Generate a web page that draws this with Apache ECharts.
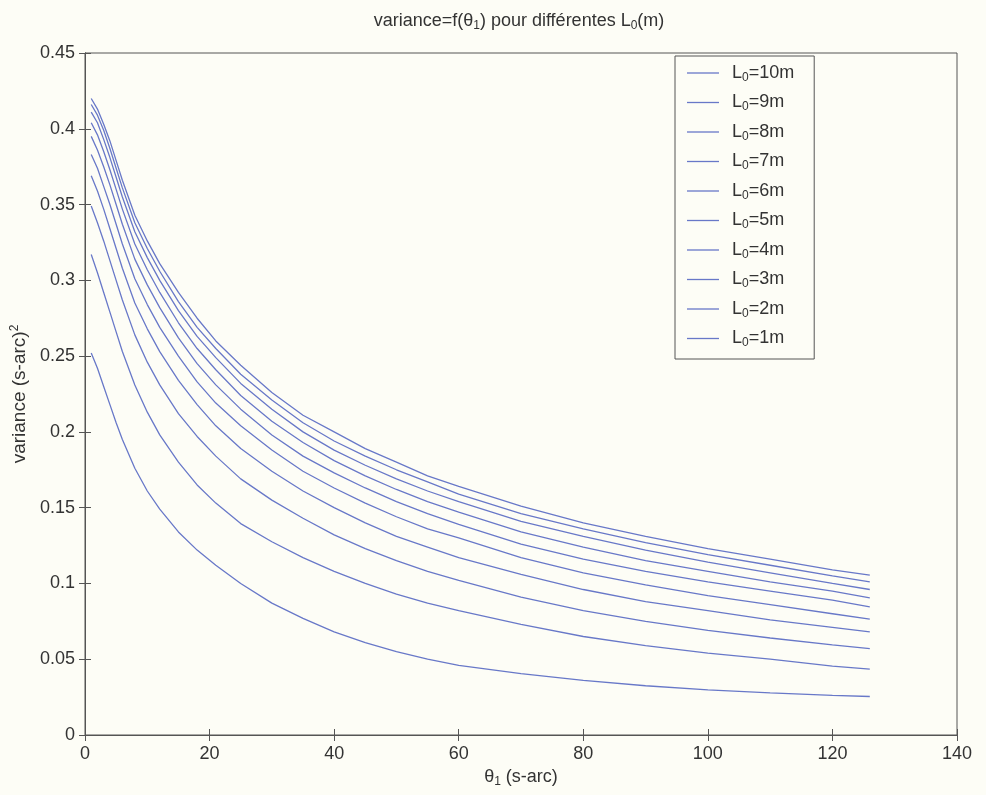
<!DOCTYPE html>
<html>
<head>
<meta charset="utf-8">
<script src="https://cdn.jsdelivr.net/npm/echarts@6/dist/echarts.min.js"></script>
<style>html,body{margin:0;padding:0;background:#fdfdf6;}#c{width:986px;height:795px;}</style>
</head>
<body>
<div id="c"></div>
<script>
var theta = [1, 2, 3, 4, 5, 6, 8, 10, 12, 15, 18, 21, 25, 30, 35, 40, 45, 50, 55, 60, 70, 80, 90, 100, 110, 120, 126];
var L10 = [0.420,0.413,0.403,0.392,0.379,0.366,0.343,0.326,0.311,0.292,0.275,0.260,0.244,0.226,0.211,0.200,0.189,0.180,0.171,0.164,0.151,0.140,0.131,0.123,0.116,0.109,0.1055];
var L9  = [0.416,0.409,0.399,0.387,0.374,0.361,0.338,0.321,0.306,0.286,0.269,0.255,0.238,0.221,0.206,0.194,0.184,0.175,0.167,0.159,0.146,0.136,0.127,0.119,0.112,0.105,0.101];
var L8  = [0.411,0.404,0.393,0.381,0.368,0.355,0.332,0.315,0.300,0.280,0.263,0.249,0.232,0.215,0.200,0.188,0.178,0.169,0.161,0.154,0.141,0.131,0.122,0.114,0.107,0.100,0.096];
var L7  = [0.404,0.396,0.385,0.373,0.360,0.347,0.324,0.307,0.292,0.272,0.255,0.241,0.224,0.207,0.193,0.181,0.171,0.162,0.154,0.147,0.134,0.124,0.115,0.108,0.101,0.095,0.0905];
var L6  = [0.395,0.386,0.375,0.363,0.350,0.337,0.314,0.297,0.282,0.262,0.245,0.231,0.215,0.198,0.184,0.173,0.163,0.154,0.146,0.139,0.126,0.116,0.108,0.101,0.095,0.089,0.0845];
var L5  = [0.383,0.374,0.362,0.350,0.337,0.324,0.301,0.284,0.269,0.250,0.233,0.219,0.204,0.188,0.174,0.163,0.153,0.144,0.136,0.130,0.117,0.107,0.099,0.092,0.086,0.080,0.0765];
var L4  = [0.369,0.359,0.347,0.334,0.321,0.308,0.285,0.268,0.253,0.234,0.218,0.204,0.189,0.174,0.161,0.150,0.140,0.131,0.124,0.117,0.106,0.096,0.088,0.082,0.076,0.071,0.068];
var L3  = [0.349,0.338,0.326,0.313,0.300,0.287,0.264,0.246,0.231,0.212,0.197,0.184,0.169,0.155,0.143,0.132,0.123,0.115,0.108,0.102,0.091,0.082,0.075,0.069,0.064,0.0595,0.057];
var L2  = [0.317,0.305,0.292,0.279,0.266,0.253,0.231,0.213,0.198,0.180,0.165,0.153,0.1395,0.1275,0.117,0.108,0.100,0.093,0.087,0.082,0.073,0.065,0.059,0.054,0.050,0.0455,0.0435];
var L1  = [0.252,0.242,0.230,0.218,0.206,0.195,0.176,0.161,0.149,0.134,0.122,0.112,0.100,0.087,0.077,0.068,0.061,0.055,0.050,0.046,0.0405,0.036,0.0325,0.0298,0.0278,0.0262,0.0254];
var seriesNames = ['L0=10m','L0=9m','L0=8m','L0=7m','L0=6m','L0=5m','L0=4m','L0=3m','L0=2m','L0=1m'];
var seriesValues = [L10, L9, L8, L7, L6, L5, L4, L3, L2, L1];
var xTicks = [0, 20, 40, 60, 80, 100, 120, 140];
var yTicks = [0, 0.05, 0.1, 0.15, 0.2, 0.25, 0.3, 0.35, 0.4, 0.45];

var FONT = '"Liberation Sans", Arial, Helvetica, sans-serif';
var TXT = '#333';
var AX = '#555';
var LINE = '#6878c8';

var chart = echarts.init(document.getElementById('c'));
var series = seriesNames.map(function (n, i) {
  return {
    name: n,
    type: 'line',
    symbol: 'none',
    smooth: false,
    lineStyle: { color: LINE, width: 1.3 },
    itemStyle: { color: LINE },
    data: theta.map(function (t, j) { return [t, seriesValues[i][j]]; })
  };
});
var subRich = {
  sub: { fontSize: 12, fontFamily: FONT, color: TXT, verticalAlign: 'bottom', padding: [9, 0, 0, 0] },
  sup: { fontSize: 12, fontFamily: FONT, color: TXT, verticalAlign: 'top', padding: [0, 0, 9, 0] }
};
function axisCommon(labels) {
  return {
    axisLine: { show: true, lineStyle: { color: AX, width: 1 } },
    axisTick: { show: true, inside: true, length: 6, lineStyle: { color: AX } },
    splitLine: { show: false },
    axisLabel: { show: labels, color: TXT, fontSize: 18, fontFamily: FONT, margin: 10 }
  };
}
chart.setOption({
  backgroundColor: '#fdfdf6',
  animation: false,
  title: {
    text: 'variance=f(θ{sub|1}) pour différentes L{sub|0}(m)',
    left: 514, top: 6, textAlign: 'center',
    textStyle: { fontSize: 18, fontWeight: 'normal', color: TXT, fontFamily: FONT, rich: subRich }
  },
  grid: { left: 85, right: 29, top: 53, bottom: 60, show: true, borderColor: AX, borderWidth: 1, backgroundColor: 'transparent' },
  legend: {
    orient: 'vertical', left: 675, top: 56,
    data: seriesNames.map(function (n) { return { name: n, icon: 'rect' }; }),
    formatter: function (n) { return n.replace('L0', 'L{sub|0}'); },
    itemWidth: 32, itemHeight: 1.3, itemGap: 10,
    padding: [8, 20, 10, 12],
    borderColor: AX, borderWidth: 1, backgroundColor: '#fdfdf6',
    textStyle: { fontSize: 18, color: TXT, fontFamily: FONT, padding: [0, 0, 0, 8], rich: subRich }
  },
  xAxis: [
    Object.assign({
      type: 'value', min: 0, max: 140, interval: 20,
      name: 'θ{sub|1} (s-arc)', nameLocation: 'middle', nameGap: 32,
      nameTextStyle: { fontSize: 18, color: TXT, fontFamily: FONT, rich: subRich }
    }, axisCommon(true)),
    Object.assign({ type: 'value', min: 0, max: 140, interval: 20, position: 'top' }, axisCommon(false))
  ],
  yAxis: [
    Object.assign({
      type: 'value', min: 0, max: 0.45, interval: 0.05,
      name: 'variance (s-arc){sup|2}', nameLocation: 'middle', nameGap: 46,
      nameTextStyle: { fontSize: 19, color: TXT, fontFamily: FONT, rich: subRich }
    }, axisCommon(true)),
    Object.assign({ type: 'value', min: 0, max: 0.45, interval: 0.05, position: 'right' }, axisCommon(false))
  ],
  series: series
});
</script>
</body>
</html>
